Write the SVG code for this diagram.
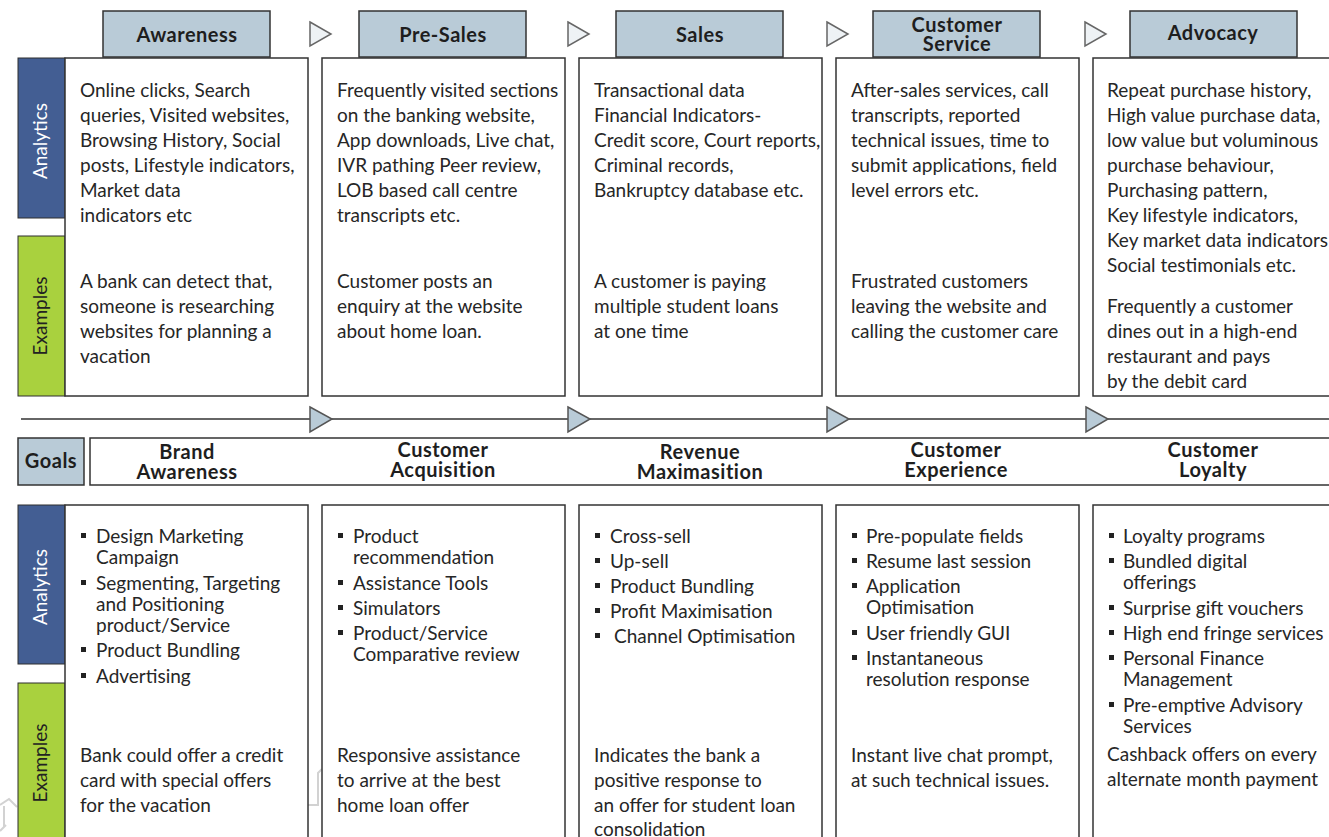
<svg xmlns="http://www.w3.org/2000/svg" width="1329" height="837" viewBox="0 0 1329 837">
  <style>
    .t { font-family: Lato, "Liberation Sans", sans-serif; font-size: 19px; fill: #262626; }
    .b { font-family: Lato, "Liberation Sans", sans-serif; font-size: 20px; font-weight: bold; letter-spacing: 0.5px; fill: #1e1e1e; text-anchor: middle; }
    .hdr { fill: #b9cbd7; stroke: #333; stroke-width: 1.5; }
    .box { fill: #fff; stroke: #333; stroke-width: 1.5; }
    .ana { fill: #435e93; stroke: #2e2e2e; stroke-width: 1; }
    .exm { fill: #a9d13e; stroke: #2e2e2e; stroke-width: 1; }
    .vl { font-family: Lato, "Liberation Sans", sans-serif; font-size: 19px; text-anchor: middle; }
    .tri-o { fill: #eef2f5; stroke: #666; stroke-width: 1.5; }
    .tri-f { fill: #b9cbd7; stroke: #555; stroke-width: 1.5; }
    .blt { fill: #222; }
    .faint { fill: none; stroke: #d2d2d2; stroke-width: 2; }
  </style>

  <!-- faint background strokes -->
  <polyline class="faint" points="0,805 9,799 17,807"/>
  <polyline class="faint" points="4,806 4,827"/>
  <polyline class="faint" points="0,831 6,825"/>
  <polyline class="faint" points="307,805 318,805 318,773 322,769"/>

  <!-- row labels -->
  <g id="row-labels">
    <rect class="ana" x="18" y="58" width="47" height="160"/>
    <text class="vl" fill="#fff" transform="translate(47,141) rotate(-90)">Analytics</text>
    <rect class="exm" x="18" y="236" width="47" height="160"/>
    <text class="vl" fill="#222" transform="translate(47,316) rotate(-90)">Examples</text>

    <rect class="hdr" x="18" y="438" width="66" height="47"/>
    <text class="b" x="51" y="468">Goals</text>

    <rect class="ana" x="18" y="505" width="47" height="159"/>
    <text class="vl" fill="#fff" transform="translate(47,587) rotate(-90)">Analytics</text>
    <rect class="exm" x="18" y="683" width="47" height="170"/>
    <text class="vl" fill="#222" transform="translate(47,763) rotate(-90)">Examples</text>
  </g>

  <!-- connectors: stage arrows and the journey line -->
  <g id="connectors">
    <polygon class="tri-o" points="310,22 331,34 310,46"/>
    <polygon class="tri-o" points="568,22 589,34 568,46"/>
    <polygon class="tri-o" points="827,22 848,34 827,46"/>
    <polygon class="tri-o" points="1085,22 1106,34 1085,46"/>

    <line x1="21" y1="419" x2="1329" y2="419" stroke="#333" stroke-width="1.5"/>
    <polygon class="tri-f" points="310,407 332,419 310,432"/>
    <polygon class="tri-f" points="568,407 590,419 568,432"/>
    <polygon class="tri-f" points="827,407 849,419 827,432"/>
    <polygon class="tri-f" points="1086,407 1108,419 1086,432"/>
  </g>

  <!-- goals band -->
  <rect id="goals-band" class="box" x="90" y="438" width="1250" height="47"/>

  <!-- stage: Awareness -->
  <g id="stage-awareness">
    <rect class="hdr" x="103" y="11" width="167" height="46"/>
    <text class="b" x="187" y="42">Awareness</text>
    <rect class="box" x="65" y="58" width="243" height="338"/>
    <text class="t">
      <tspan x="80" y="97">Online clicks, Search</tspan>
      <tspan x="80" y="122">queries, Visited websites,</tspan>
      <tspan x="80" y="147">Browsing History, Social</tspan>
      <tspan x="80" y="172">posts, Lifestyle indicators,</tspan>
      <tspan x="80" y="197">Market data</tspan>
      <tspan x="80" y="222">indicators etc</tspan>
    </text>
    <text class="t">
      <tspan x="80" y="288">A bank can detect that,</tspan>
      <tspan x="80" y="313">someone is researching</tspan>
      <tspan x="80" y="338">websites for planning a</tspan>
      <tspan x="80" y="363">vacation</tspan>
    </text>
  </g>

  <!-- stage: Pre-Sales -->
  <g id="stage-presales">
    <rect class="hdr" x="359" y="11" width="167" height="46"/>
    <text class="b" x="443" y="42">Pre-Sales</text>
    <rect class="box" x="322" y="58" width="243" height="338"/>
    <text class="t">
      <tspan x="337" y="97">Frequently visited sections</tspan>
      <tspan x="337" y="122">on the banking website,</tspan>
      <tspan x="337" y="147">App downloads, Live chat,</tspan>
      <tspan x="337" y="172">IVR pathing Peer review,</tspan>
      <tspan x="337" y="197">LOB based call centre</tspan>
      <tspan x="337" y="222">transcripts etc.</tspan>
    </text>
    <text class="t">
      <tspan x="337" y="288">Customer posts an</tspan>
      <tspan x="337" y="313">enquiry at the website</tspan>
      <tspan x="337" y="338">about home loan.</tspan>
    </text>
  </g>

  <!-- stage: Sales -->
  <g id="stage-sales">
    <rect class="hdr" x="616" y="11" width="167" height="46"/>
    <text class="b" x="700" y="42">Sales</text>
    <rect class="box" x="579" y="58" width="243" height="338"/>
    <text class="t">
      <tspan x="594" y="97">Transactional data</tspan>
      <tspan x="594" y="122">Financial Indicators-</tspan>
      <tspan x="594" y="147">Credit score, Court reports,</tspan>
      <tspan x="594" y="172">Criminal records,</tspan>
      <tspan x="594" y="197">Bankruptcy database etc.</tspan>
    </text>
    <text class="t">
      <tspan x="594" y="288">A customer is paying</tspan>
      <tspan x="594" y="313">multiple student loans</tspan>
      <tspan x="594" y="338">at one time</tspan>
    </text>
  </g>

  <!-- stage: Customer Service -->
  <g id="stage-customer-service">
    <rect class="hdr" x="873" y="11" width="167" height="46"/>
    <text class="b" x="957" y="32">Customer</text>
    <text class="b" x="957" y="51">Service</text>
    <rect class="box" x="836" y="58" width="243" height="338"/>
    <text class="t">
      <tspan x="851" y="97">After-sales services, call</tspan>
      <tspan x="851" y="122">transcripts, reported</tspan>
      <tspan x="851" y="147">technical issues, time to</tspan>
      <tspan x="851" y="172">submit applications, field</tspan>
      <tspan x="851" y="197">level errors etc.</tspan>
    </text>
    <text class="t">
      <tspan x="851" y="288">Frustrated customers</tspan>
      <tspan x="851" y="313">leaving the website and</tspan>
      <tspan x="851" y="338">calling the customer care</tspan>
    </text>
  </g>

  <!-- stage: Advocacy -->
  <g id="stage-advocacy">
    <rect class="hdr" x="1130" y="11" width="167" height="46"/>
    <text class="b" x="1213" y="40">Advocacy</text>
    <rect class="box" x="1093" y="58" width="250" height="338"/>
    <text class="t">
      <tspan x="1107" y="97">Repeat purchase history,</tspan>
      <tspan x="1107" y="122">High value purchase data,</tspan>
      <tspan x="1107" y="147">low value but voluminous</tspan>
      <tspan x="1107" y="172">purchase behaviour,</tspan>
      <tspan x="1107" y="197">Purchasing pattern,</tspan>
      <tspan x="1107" y="222">Key lifestyle indicators,</tspan>
      <tspan x="1107" y="247">Key market data indicators</tspan>
      <tspan x="1107" y="272">Social testimonials etc.</tspan>
    </text>
    <text class="t">
      <tspan x="1107" y="313">Frequently a customer</tspan>
      <tspan x="1107" y="338">dines out in a high-end</tspan>
      <tspan x="1107" y="363">restaurant and pays</tspan>
      <tspan x="1107" y="388">by the debit card</tspan>
    </text>
  </g>

  <!-- goal: Brand Awareness -->
  <g id="goal-brand-awareness">
    <text class="b"><tspan x="187" y="459">Brand</tspan><tspan x="187" y="479">Awareness</tspan></text>
    <rect class="box" x="65" y="505" width="243" height="345"/>
    <rect class="blt" x="81" y="533" width="5" height="5"/>
    <rect class="blt" x="81" y="580" width="5" height="5"/>
    <rect class="blt" x="81" y="647" width="5" height="5"/>
    <rect class="blt" x="81" y="673" width="5" height="5"/>
    <text class="t">
      <tspan x="96" y="543">Design Marketing</tspan>
      <tspan x="96" y="564">Campaign</tspan>
      <tspan x="96" y="590">Segmenting, Targeting</tspan>
      <tspan x="96" y="611">and Positioning</tspan>
      <tspan x="96" y="632">product/Service</tspan>
      <tspan x="96" y="657">Product Bundling</tspan>
      <tspan x="96" y="683">Advertising</tspan>
    </text>
    <text class="t">
      <tspan x="80" y="762">Bank could offer a credit</tspan>
      <tspan x="80" y="787">card with special offers</tspan>
      <tspan x="80" y="812">for the vacation</tspan>
    </text>
  </g>

  <!-- goal: Customer Acquisition -->
  <g id="goal-customer-acquisition">
    <text class="b"><tspan x="443" y="457">Customer</tspan><tspan x="443" y="477">Acquisition</tspan></text>
    <rect class="box" x="322" y="505" width="243" height="345"/>
    <rect class="blt" x="338" y="533" width="5" height="5"/>
    <rect class="blt" x="338" y="580" width="5" height="5"/>
    <rect class="blt" x="338" y="605" width="5" height="5"/>
    <rect class="blt" x="338" y="630" width="5" height="5"/>
    <text class="t">
      <tspan x="353" y="543">Product</tspan>
      <tspan x="353" y="564">recommendation</tspan>
      <tspan x="353" y="590">Assistance Tools</tspan>
      <tspan x="353" y="615">Simulators</tspan>
      <tspan x="353" y="640">Product/Service</tspan>
      <tspan x="353" y="661">Comparative review</tspan>
    </text>
    <text class="t">
      <tspan x="337" y="762">Responsive assistance</tspan>
      <tspan x="337" y="787">to arrive at the best</tspan>
      <tspan x="337" y="812">home loan offer</tspan>
    </text>
  </g>

  <!-- goal: Revenue Maximasition -->
  <g id="goal-revenue">
    <text class="b"><tspan x="700" y="459">Revenue</tspan><tspan x="700" y="479">Maximasition</tspan></text>
    <rect class="box" x="579" y="505" width="243" height="345"/>
    <rect class="blt" x="595" y="533" width="5" height="5"/>
    <rect class="blt" x="595" y="558" width="5" height="5"/>
    <rect class="blt" x="595" y="583" width="5" height="5"/>
    <rect class="blt" x="595" y="608" width="5" height="5"/>
    <rect class="blt" x="595" y="633" width="5" height="5"/>
    <text class="t">
      <tspan x="610" y="543">Cross-sell</tspan>
      <tspan x="610" y="568">Up-sell</tspan>
      <tspan x="610" y="593">Product Bundling</tspan>
      <tspan x="610" y="618">Profit Maximisation</tspan>
      <tspan x="614" y="643">Channel Optimisation</tspan>
    </text>
    <text class="t">
      <tspan x="594" y="762">Indicates the bank a</tspan>
      <tspan x="594" y="787">positive response to</tspan>
      <tspan x="594" y="812">an offer for student loan</tspan>
      <tspan x="594" y="836">consolidation</tspan>
    </text>
  </g>

  <!-- goal: Customer Experience -->
  <g id="goal-customer-experience">
    <text class="b"><tspan x="956" y="457">Customer</tspan><tspan x="956" y="477">Experience</tspan></text>
    <rect class="box" x="836" y="505" width="243" height="345"/>
    <rect class="blt" x="852" y="533" width="5" height="5"/>
    <rect class="blt" x="852" y="558" width="5" height="5"/>
    <rect class="blt" x="852" y="583" width="5" height="5"/>
    <rect class="blt" x="852" y="630" width="5" height="5"/>
    <rect class="blt" x="852" y="655" width="5" height="5"/>
    <text class="t">
      <tspan x="866" y="543">Pre-populate fields</tspan>
      <tspan x="866" y="568">Resume last session</tspan>
      <tspan x="866" y="593">Application</tspan>
      <tspan x="866" y="614">Optimisation</tspan>
      <tspan x="866" y="640">User friendly GUI</tspan>
      <tspan x="866" y="665">Instantaneous</tspan>
      <tspan x="866" y="686">resolution response</tspan>
    </text>
    <text class="t">
      <tspan x="851" y="762">Instant live chat prompt,</tspan>
      <tspan x="851" y="787">at such technical issues.</tspan>
    </text>
  </g>

  <!-- goal: Customer Loyalty -->
  <g id="goal-customer-loyalty">
    <text class="b"><tspan x="1213" y="457">Customer</tspan><tspan x="1213" y="477">Loyalty</tspan></text>
    <rect class="box" x="1093" y="505" width="250" height="345"/>
    <rect class="blt" x="1109" y="533" width="5" height="5"/>
    <rect class="blt" x="1109" y="558" width="5" height="5"/>
    <rect class="blt" x="1109" y="605" width="5" height="5"/>
    <rect class="blt" x="1109" y="630" width="5" height="5"/>
    <rect class="blt" x="1109" y="655" width="5" height="5"/>
    <rect class="blt" x="1109" y="702" width="5" height="5"/>
    <text class="t">
      <tspan x="1123" y="543">Loyalty programs</tspan>
      <tspan x="1123" y="568">Bundled digital</tspan>
      <tspan x="1123" y="589">offerings</tspan>
      <tspan x="1123" y="615">Surprise gift vouchers</tspan>
      <tspan x="1123" y="640">High end fringe services</tspan>
      <tspan x="1123" y="665">Personal Finance</tspan>
      <tspan x="1123" y="686">Management</tspan>
      <tspan x="1123" y="712">Pre-emptive Advisory</tspan>
      <tspan x="1123" y="733">Services</tspan>
    </text>
    <text class="t">
      <tspan x="1107" y="761">Cashback offers on every</tspan>
      <tspan x="1107" y="786">alternate month payment</tspan>
    </text>
  </g>
</svg>
